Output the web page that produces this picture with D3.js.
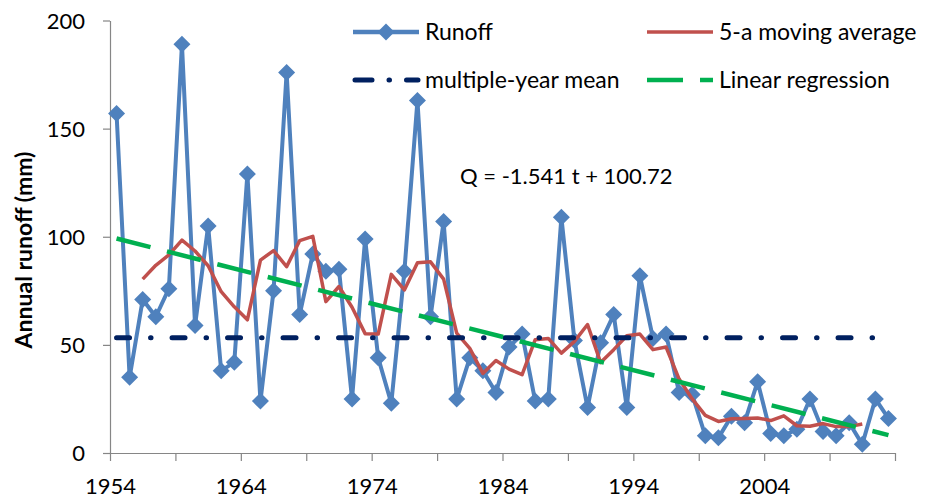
<!DOCTYPE html>
<html lang="en">
<head>
<meta charset="utf-8">
<title>Annual runoff</title>
<script src="https://d3js.org/d3.v7.min.js"></script>
<style>
  body { margin: 0; background: #fff; }
  svg text { font-family: Lato, sans-serif; fill: #000; }
  .axis path, .axis line { stroke: #868686; stroke-width: 1.2; }
  .axis text { font-size: 22px; }
</style>
</head>
<body>
<svg width="933" height="500"></svg>
<script>
// categories (one point per year, placed between tick marks like Excel)
var years = d3.range(1954, 2014);

// annual runoff (mm), 1954-2013
var runoff = [157, 35, 71, 63, 76, 189, 59, 105, 38, 42,
              129, 24, 75, 176, 64, 92, 84, 85, 25, 99,
              44, 23, 84, 163, 63, 107, 25, 44, 38, 28,
              49, 55, 24, 25, 109, 52, 21, 51, 64, 21,
              82, 53, 55, 28, 27, 8, 7, 17, 14, 33,
              9, 8, 11, 25, 10, 8, 14, 4, 25, 16];

// 5-a moving average, 1956-2011
var maStart = 1956;
var movingAvg = [80.4, 86.8, 91.6, 98.4, 93.4, 86.6, 74.6, 67.6, 61.6, 89.2,
                 93.6, 86.2, 98.2, 100.2, 70, 77, 67.4, 55.2, 55, 82.6,
                 75.4, 88, 88.4, 80.4, 55.4, 48.4, 36.8, 42.8, 38.8, 36.2,
                 52.4, 53, 46.2, 51.6, 59.4, 41.8, 47.8, 54.2, 55, 47.8,
                 49, 34.2, 25, 17.4, 14.6, 15.8, 16, 16.2, 15, 17.2,
                 12.6, 12.4, 13.6, 12.2, 12.2, 13.4];

var meanRunoff = 53.3;
var slope = -1.541, intercept = 100.72;   // Q = a t + b, t = 1..60

var xTicks = d3.range(1954, 2015, 5);
var xLabels = [1954, 1964, 1974, 1984, 1994, 2004];
var yTicks = [0, 50, 100, 150, 200];

var svg = d3.select("svg");

var x = d3.scaleLinear().domain([1954, 2014]).range([110, 895]);
var y = d3.scaleLinear().domain([0, 200]).range([453, 20.5]);
var px = function(yr) { return x(yr + 0.5); };

// axes
svg.append("g")
    .attr("class", "axis")
    .attr("transform", "translate(110,0)")
    .call(d3.axisLeft(y).tickValues(yTicks).tickSize(7).tickPadding(18).tickSizeOuter(0))
    .call(function(g) { g.selectAll("text").attr("dy", "0.36em"); });

svg.append("g")
    .attr("class", "axis")
    .attr("transform", "translate(0,453)")
    .call(d3.axisBottom(x).tickValues(xTicks).tickSize(8).tickPadding(17).tickSizeOuter(0)
        .tickFormat(function(d) { return xLabels.indexOf(d) >= 0 ? d : ""; }));

svg.selectAll(".axis .domain").attr("stroke", "#868686");

// y axis title
svg.append("text")
    .attr("transform", "translate(32,250) rotate(-90)")
    .attr("text-anchor", "middle")
    .style("font-size", "23px")
    .style("font-weight", "bold")
    .text("Annual runoff (mm)");

// runoff series
var runLine = d3.line()
    .x(function(d, i) { return px(years[i]); })
    .y(function(d) { return y(d); });

svg.append("path")
    .datum(runoff)
    .attr("d", runLine)
    .attr("fill", "none")
    .attr("stroke", "#4f81bd")
    .attr("stroke-width", 4)
    .attr("stroke-linejoin", "round");

var diamond = "M0,-8.5L8.5,0L0,8.5L-8.5,0Z";

svg.selectAll(".pt")
    .data(runoff)
    .enter()
    .append("path")
    .attr("class", "pt")
    .attr("d", diamond)
    .attr("fill", "#4f81bd")
    .attr("transform", function(d, i) {
        return "translate(" + px(years[i]) + "," + y(d) + ")";
    });

// moving average
svg.append("path")
    .datum(movingAvg)
    .attr("d", d3.line()
        .x(function(d, i) { return px(maStart + i); })
        .y(function(d) { return y(d); }))
    .attr("fill", "none")
    .attr("stroke", "#c0504d")
    .attr("stroke-width", 3.5)
    .attr("stroke-linejoin", "round");

// multiple-year mean
svg.append("line")
    .attr("x1", px(years[0]))
    .attr("x2", px(years[years.length - 1]))
    .attr("y1", y(meanRunoff))
    .attr("y2", y(meanRunoff))
    .attr("stroke", "#002060")
    .attr("stroke-width", 5)
    .attr("stroke-linecap", "round")
    .attr("stroke-dasharray", "13,21,0.5,21");

// linear regression
var t0 = 1, t1 = years.length;
svg.append("line")
    .attr("x1", px(years[0]))
    .attr("x2", px(years[years.length - 1]))
    .attr("y1", y(slope * t0 + intercept))
    .attr("y2", y(slope * t1 + intercept))
    .attr("stroke", "#00b050")
    .attr("stroke-width", 4.5)
    .attr("stroke-dasharray", "35,17");

// equation
svg.append("text")
    .attr("x", 460)
    .attr("y", 184)
    .style("font-size", "22px")
    .text("Q = -1.541 t + 100.72");

// legend
var legend = [
    {name: "Runoff", x: 353, y: 32, type: "runoff"},
    {name: "5-a moving average", x: 647, y: 32, type: "ma"},
    {name: "multiple-year mean", x: 353, y: 80, type: "mean"},
    {name: "Linear regression", x: 647, y: 80, type: "reg"}
];

var lg = svg.selectAll(".lg")
    .data(legend)
    .enter()
    .append("g")
    .attr("class", "lg")
    .attr("transform", function(d) { return "translate(" + d.x + "," + d.y + ")"; });

lg.append("line")
    .attr("x1", function(d) { return d.type == "mean" ? 2 : 0; })
    .attr("x2", function(d) { return d.type == "mean" ? 65 : 66; })
    .attr("stroke", function(d) {
        return {runoff: "#4f81bd", ma: "#c0504d", mean: "#002060", reg: "#00b050"}[d.type];
    })
    .attr("stroke-width", function(d) { return d.type == "ma" ? 3.5 : (d.type == "mean" ? 5 : 4.5); })
    .attr("stroke-linecap", function(d) { return d.type == "mean" ? "round" : "butt"; })
    .attr("stroke-dasharray", function(d) {
        if (d.type == "mean") return "17,17,0.5,17";
        if (d.type == "reg") return "36,17";
        return null;
    });

lg.filter(function(d) { return d.type == "runoff"; })
    .append("path")
    .attr("d", diamond)
    .attr("fill", "#4f81bd")
    .attr("transform", "translate(33,0)");

lg.append("text")
    .attr("x", 72)
    .attr("dy", "0.36em")
    .style("font-size", "23px")
    .text(function(d) { return d.name; });
</script>
</body>
</html>
